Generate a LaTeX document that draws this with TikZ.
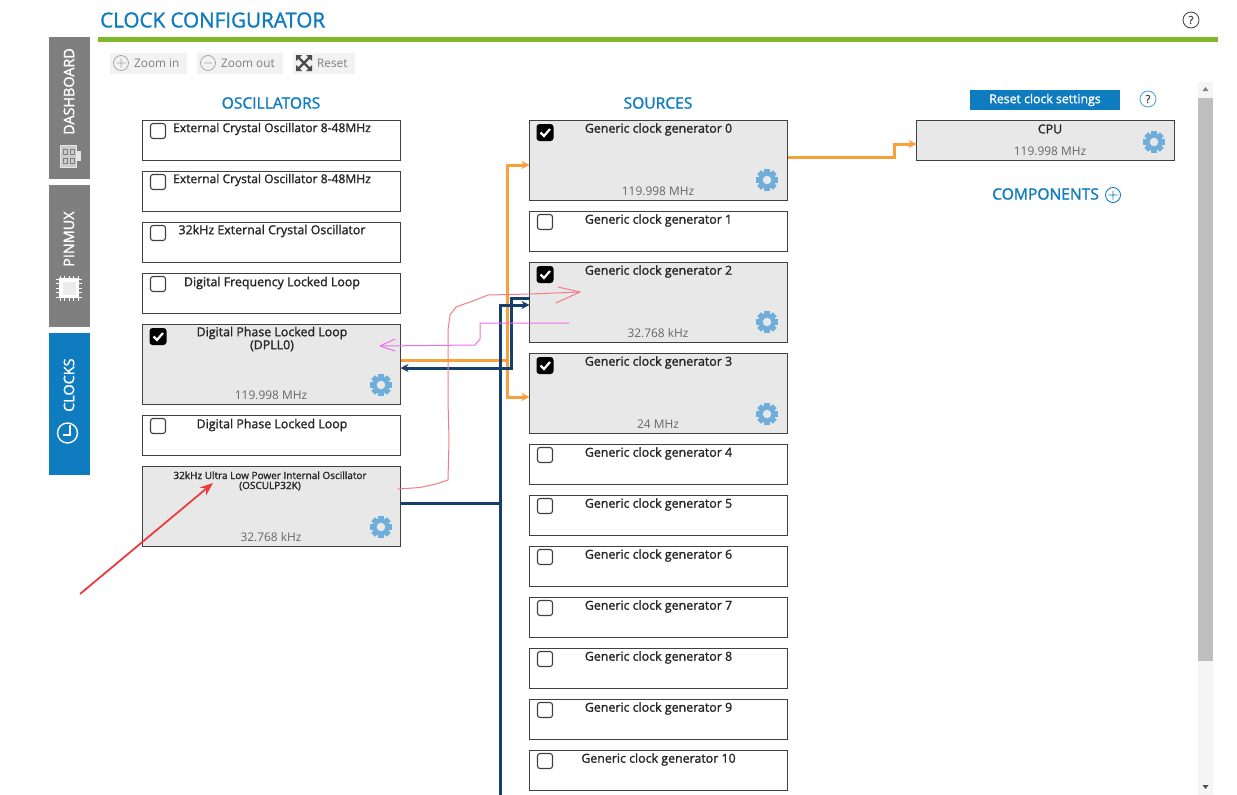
\documentclass[tikz,border=0pt]{standalone}
\usepackage{fontspec}
\setmainfont{Open Sans}
\newfontfamily\semi[FakeBold=1.4]{Open Sans}
\usetikzlibrary{calc,arrows.meta}
\definecolor{cblue}{HTML}{0F7CC0}
\definecolor{tabgrey}{HTML}{7F7F7F}
\definecolor{navy}{HTML}{15406E}
\definecolor{orng}{HTML}{F5A13C}
\definecolor{gearc}{HTML}{6FAEDB}
\definecolor{boxgrey}{HTML}{E8E8E8}
\definecolor{hand}{HTML}{F07F85}
\definecolor{magn}{HTML}{EE6FE6}
\definecolor{redarrow}{HTML}{EC3B3F}
\definecolor{barg}{HTML}{80B82A}
\tikzset{
  x=1pt,y=-1pt,
  idle/.style={draw=black!75,line width=1pt,fill=white,minimum width=#1,inner sep=0pt,outer sep=0pt},
  idle/.default=258pt,
  active/.style={idle=258pt,fill=boxgrey},
  h41/.style={minimum height=40pt},
  h81/.style={minimum height=80pt},
  boxlabel/.style={inner sep=0pt,text=black!85,font=\semi\fontsize{12.4}{13}\selectfont,align=center},
  freq/.style={inner sep=0pt,text=black!60,font=\fontsize{11.9}{13}\selectfont},
  head/.style={inner sep=0pt,text=cblue,font=\semi\fontsize{15.6}{18}\selectfont},
  tabtxt/.style={inner sep=0pt,text=white,rotate=90,font=\semi\fontsize{14.4}{16}\selectfont},
  zoomtxt/.style={inner sep=0pt,text=black!50,font=\fontsize{11.8}{13}\selectfont},
  zoombg/.style={fill=black!5,draw=none,inner sep=0pt,minimum height=21pt},
  wire/.style={line width=3pt,line join=miter},
  tip/.style={-{Stealth[length=8pt,width=8pt]}},
  navywire/.style={wire,draw=navy},
  orngwire/.style={wire,draw=orng},
  handline/.style={draw=hand,line width=1pt,line join=round,line cap=round},
  magline/.style={draw=magn,line width=1pt,line join=round,line cap=round},
}
% gear icon
\newcommand{\gearat}[1]{%
  \begin{scope}[shift={(#1)}]
    \foreach \a in {0,45,...,315}{\fill[gearc,rotate=\a] (-2.8,-11) rectangle (2.8,-6);}
    \fill[gearc,even odd rule] (0,0) circle[radius=8.6] (0,0) circle[radius=4.4];
  \end{scope}}
% tick boxes
\newcommand{\tickoff}[1]{\draw[black!75,fill=white,line width=1.1pt,rounded corners=2.5pt] ($(#1.north west)+(8,3)$) rectangle ++(15,15);}
\newcommand{\tickon}[1]{\fill[black,rounded corners=3pt] ($(#1.north west)+(7,3.5)$) rectangle ++(17,17);
  \draw[white,line width=2.2pt] ($(#1.north west)+(11,12)$) -- ++(3.5,3.5) -- ++(6,-7);}
\newcommand{\qmark}[2]{\node[draw=#2,text=black!70,circle,line width=.9pt,minimum size=16pt,inner sep=0pt,font=\semi\fontsize{11}{12}\selectfont] at (#1) {?};}
\begin{document}
\begin{tikzpicture}
\useasboundingbox (0,0) rectangle (1237,795);
\fill[white] (0,0) rectangle (1237,795);
% header
\node[anchor=west,inner sep=0pt,text=cblue,font=\semi\fontsize{20.6}{24}\selectfont] (title) at (100,20) {CLOCK CONFIGURATOR};
\fill[barg] (98,37) rectangle (1218,42);
\qmark{1191,20}{black!70}
% tabs
\fill[tabgrey] (49,37) rectangle (90,179);
\fill[tabgrey] (49,185) rectangle (90,327);
\fill[cblue] (49,333) rectangle (90,475);
\node[tabtxt,anchor=west] (tdash) at (69,135) {DASHBOARD};
\node[tabtxt,anchor=west] (tpin) at (69,267) {PINMUX};
\node[tabtxt,anchor=west] (tclk) at (69,412) {CLOCKS};
% dashboard icon
\draw[white!80!tabgrey,line width=1pt,fill=white!60!tabgrey] (60,145) rectangle (76,167);
\fill[white!80!tabgrey] (76,151) rectangle (81,161);
\foreach \yy in {149,158}{\draw[tabgrey,line width=.8pt] (63,\yy) rectangle ++(4,5) (70,\yy) rectangle ++(4,5);}
% chip icon
\foreach \k in {0,1,2,3,4}{
  \draw[white,line width=.8pt] (60+4.5*\k,276) -- ++(0,25);
  \draw[white,line width=.8pt] (56,279+4.5*\k) -- ++(26,0);}
\fill[white] (59,278) rectangle (79,298);
\fill[white!85!tabgrey] (62.5,281.5) rectangle (75.5,294.5);
% clock icon
\draw[white,line width=1.4pt] (67.5,433) circle[radius=10];
\draw[white,line width=1.4pt] (70,425) -- (70,435) -- (63,435);
% zoom toolbar
\node[zoombg,minimum width=77pt] (zi) at (148.5,63.5) {};
\node[zoombg,minimum width=86pt] (zo) at (240,63.5) {};
\node[zoombg,minimum width=62pt] (zr) at (324,63.5) {};
\draw[black!35,line width=.8pt] (121,63) circle[radius=7.5] (116.5,63) -- (125.5,63) (121,58.5) -- (121,67.5);
\draw[black!35,line width=.8pt] (208,63) circle[radius=7.5] (204,63) -- (212,63);
\draw[black!70,line width=2.2pt] (298,57) -- (310,69) (310,57) -- (298,69);
\fill[black!70] (296,55) -- (302,55) -- (296,61) -- cycle (312,55) -- (306,55) -- (312,61) -- cycle (296,71) -- (302,71) -- (296,65) -- cycle (312,71) -- (306,71) -- (312,65) -- cycle;
\node[zoomtxt,anchor=west] at (134,63) {Zoom in};
\node[zoomtxt,anchor=west] at (221,63) {Zoom out};
\node[zoomtxt,anchor=west] at (317,63) {Reset};
% scrollbar
\fill[black!4] (1198,82) rectangle (1213,795);
\fill[black!25] (1198,98) rectangle (1213,661);
\fill[black!50] (1205.5,87) -- (1202.5,91) -- (1208.5,91) -- cycle;
\fill[black!70] (1205.5,789) -- (1202.5,785) -- (1208.5,785) -- cycle;
% headings
\node[head] (hosc) at (271,103) {OSCILLATORS};
\node[head] (hsrc) at (658,103) {SOURCES};
\node[fill=cblue,text=white,inner sep=0pt,minimum width=150pt,minimum height=20pt,font=\semi\fontsize{12.3}{13}\selectfont] (reset) at (1045,100) {Reset clock settings};
\qmark{1148,99}{cblue!70}
\node[head,anchor=west] (hcomp) at (992,194) {COMPONENTS};
\draw[cblue,line width=.9pt] (1113,195) circle[radius=7.5] (1108.5,195) -- (1117.5,195) (1113,190.5) -- (1113,199.5);
% oscillators
\node[idle,h41,anchor=north west] (o1) at (142.5,120.5) {};
\node[idle,h41,anchor=north west] (o2) at (142.5,171.5) {};
\node[idle,h41,anchor=north west] (o3) at (142.5,222.5) {};
\node[idle,h41,anchor=north west] (o4) at (142.5,273.5) {};
\node[active,h81,anchor=north west] (o5) at (142.5,324.5) {};
\node[idle,h41,anchor=north west] (o6) at (142.5,415.5) {};
\node[active,h81,anchor=north west] (o7) at (142.5,466.5) {};
\tickoff{o1}\tickoff{o2}\tickoff{o3}\tickoff{o4}\tickon{o5}\tickoff{o6}
\node[boxlabel,font=\semi\fontsize{12.1}{13}\selectfont] at (272,129) {External Crystal Oscillator 8-48MHz};
\node[boxlabel,font=\semi\fontsize{12.1}{13}\selectfont] at (272,180) {External Crystal Oscillator 8-48MHz};
\node[boxlabel] at (272,231) {32kHz External Crystal Oscillator};
\node[boxlabel] at (272,283) {Digital Frequency Locked Loop};
\node[boxlabel,font=\semi\fontsize{12.4}{11.5}\selectfont] at (272,339) {Digital Phase Locked Loop\\(DPLL0)};
\node[boxlabel] at (272,425) {Digital Phase Locked Loop};
\node[boxlabel,font=\semi\fontsize{10}{10}\selectfont] at (270,481) {32kHz Ultra Low Power Internal Oscillator\\(OSCULP32K)};
\node[freq] at (271,395) {119.998 MHz};
\node[freq] at (271,537) {32.768 kHz};
\gearat{381,385}\gearat{381,527}
% sources
\node[active,h81,anchor=north west] (s0) at (529.5,120.5) {};
\node[idle,h41,anchor=north west] (s1) at (529.5,211.5) {};
\node[active,h81,anchor=north west] (s2) at (529.5,262.5) {};
\node[active,h81,anchor=north west] (s3) at (529.5,353.5) {};
\node[idle,h41,anchor=north west] (s4) at (529.5,444.5) {};
\node[idle,h41,anchor=north west] (s5) at (529.5,495.5) {};
\node[idle,h41,anchor=north west] (s6) at (529.5,546.5) {};
\node[idle,h41,anchor=north west] (s7) at (529.5,597.5) {};
\node[idle,h41,anchor=north west] (s8) at (529.5,648.5) {};
\node[idle,h41,anchor=north west] (s9) at (529.5,699.5) {};
\node[idle,h41,anchor=north west] (s10) at (529.5,750.5) {};
\tickon{s0}\tickoff{s1}\tickon{s2}\tickon{s3}\tickoff{s4}\tickoff{s5}\tickoff{s6}\tickoff{s7}\tickoff{s8}\tickoff{s9}\tickoff{s10}
\foreach \n/\t in {s0/0,s1/1,s2/2,s3/3,s4/4,s5/5,s6/6,s7/7,s8/8,s9/9,s10/10}{
  \node[boxlabel] at ($(\n.north west)+(129,9)$) {Generic clock generator \t};}
\node[freq] at (658,191) {119.998 MHz};
\node[freq] at (658,333) {32.768 kHz};
\node[freq] at (658,424) {24 MHz};
\gearat{767,180}\gearat{767,322}\gearat{767,414}
% CPU
\node[active,h41,anchor=north west] (cpu) at (916.5,120.5) {};
\node[boxlabel] at (1050,129) {CPU};
\node[freq] at (1050,151) {119.998 MHz};
\gearat{1154,142}
% waypoints
\coordinate (oj) at (507,360);
\coordinate (g0in) at (507,165);
\coordinate (g3in) at (507,397);
\coordinate (nj) at (500,503);
\coordinate (nbot) at (500,795);
\coordinate (ntop) at (500,305);
\coordinate (rj) at (511,298);
\coordinate (rk) at (511,368);
\coordinate (cj1) at (894,157);
\coordinate (cj2) at (894,144);
% connectors
\draw[orngwire] (o5.east |- oj) -- (oj);
\draw[orngwire,tip] (oj) -- (g0in) -- (s0.west |- g0in);
\draw[orngwire,tip] (oj) -- (g3in) -- (s3.west |- g3in);
\draw[orngwire,tip] (s0.east |- cj1) -- (cj1) -- (cj2) -- (cpu.west |- cj2);
\draw[navywire] (o7.east |- nj) -- (nj);
\draw[navywire] (nbot) -- (nj);
\draw[navywire,tip] (nj) -- (ntop) -- (s2.west |- ntop);
\draw[navywire,tip] (s2.west |- rj) -- (rj) -- (rk) -- (o5.east |- rk);
% hand drawn
\draw[handline] (398,489) -- (420,487.5) -- (436,484) -- (448,480) -- (449,440) -- (448,400) -- (448,330) -- (450,315) -- (456,307) -- (470,302) -- (478,299) -- (488,295) -- (530,294) -- (580,292);
\draw[handline] (558,287) -- (580,292) -- (556,303);
\draw[magline] (569,323) -- (480,323) -- (480,339) -- (475,345) -- (380,346);
\draw[magline] (395,339) -- (380,346) -- (395,351);
\draw[draw=redarrow,line width=1.8pt,-{Stealth[length=13pt,width=10pt]}] (80,594) -- (213,483);
\end{tikzpicture}
\end{document}
